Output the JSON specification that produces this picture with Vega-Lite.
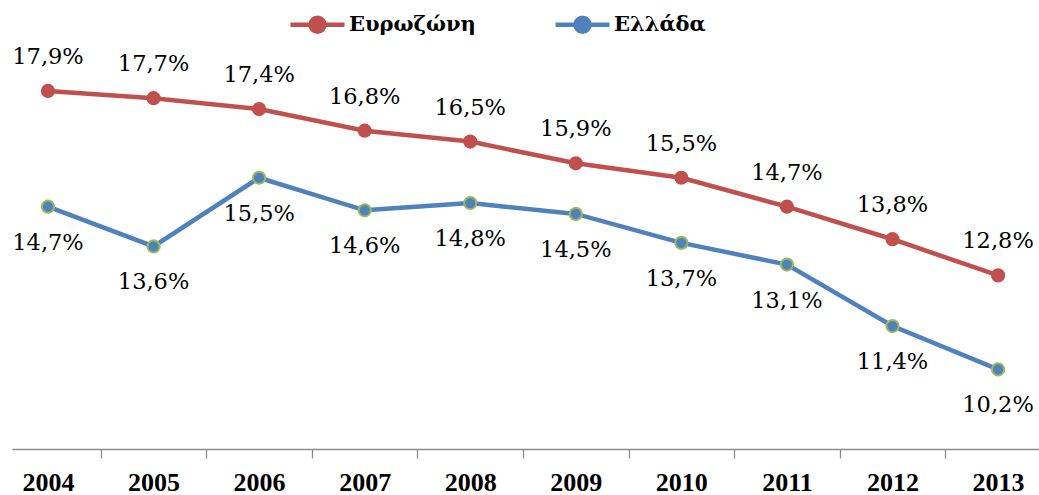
{
  "$schema": "https://vega.github.io/schema/vega-lite/v6.json",
  "width": 1027,
  "height": 434,
  "autosize": {"type": "none"},
  "padding": {"left": 12, "top": 15, "right": 0, "bottom": 46},
  "background": "white",
  "config": {
    "view": {"stroke": null},
    "locale": {"number": {"decimal": ",", "thousands": ".", "grouping": [3], "currency": ["", " €"]}}
  },
  "data": {
    "values": [
      {"year": 2004, "series": "Ευρωζώνη", "value": 0.179},
      {"year": 2005, "series": "Ευρωζώνη", "value": 0.177},
      {"year": 2006, "series": "Ευρωζώνη", "value": 0.174},
      {"year": 2007, "series": "Ευρωζώνη", "value": 0.168},
      {"year": 2008, "series": "Ευρωζώνη", "value": 0.165},
      {"year": 2009, "series": "Ευρωζώνη", "value": 0.159},
      {"year": 2010, "series": "Ευρωζώνη", "value": 0.155},
      {"year": 2011, "series": "Ευρωζώνη", "value": 0.147},
      {"year": 2012, "series": "Ευρωζώνη", "value": 0.138},
      {"year": 2013, "series": "Ευρωζώνη", "value": 0.128},
      {"year": 2004, "series": "Ελλάδα", "value": 0.147},
      {"year": 2005, "series": "Ελλάδα", "value": 0.136},
      {"year": 2006, "series": "Ελλάδα", "value": 0.155},
      {"year": 2007, "series": "Ελλάδα", "value": 0.146},
      {"year": 2008, "series": "Ελλάδα", "value": 0.148},
      {"year": 2009, "series": "Ελλάδα", "value": 0.145},
      {"year": 2010, "series": "Ελλάδα", "value": 0.137},
      {"year": 2011, "series": "Ελλάδα", "value": 0.131},
      {"year": 2012, "series": "Ελλάδα", "value": 0.114},
      {"year": 2013, "series": "Ελλάδα", "value": 0.102}
    ]
  },
  "encoding": {
    "x": {
      "field": "year", "type": "quantitative",
      "scale": {"domain": [2003.659, 2013.388], "nice": false, "zero": false},
      "axis": {
        "title": null,
        "values": [2004, 2005, 2006, 2007, 2008, 2009, 2010, 2011, 2012, 2013],
        "format": "d",
        "grid": false,
        "tickOffset": 52.78,
        "labelOffset": -52.78,
        "labelFlush": false,
        "labelOverlap": false,
        "labelBound": false,
        "tickSize": 9,
        "tickColor": "#8c8c8c",
        "domainColor": "#8c8c8c",
        "domainWidth": 1.3,
        "tickWidth": 1.3,
        "labelFont": "Liberation Serif",
        "labelFontWeight": "bold",
        "labelFontSize": 26,
        "labelColor": "black",
        "labelPadding": 11
      }
    },
    "y": {
      "field": "value", "type": "quantitative",
      "scale": {"domain": [0.08, 0.20], "nice": false, "zero": false},
      "axis": null
    }
  },
  "layer": [
    {
      "mark": {"type": "line", "strokeWidth": 4.5},
      "encoding": {
        "color": {
          "field": "series", "type": "nominal",
          "scale": {"domain": ["Ευρωζώνη", "Ελλάδα"], "range": ["#C0504D", "#4F81BD"]},
          "legend": {
            "title": null,
            "orient": "none",
            "direction": "horizontal",
            "legendX": 276,
            "legendY": -20,
            "symbolType": "M-1,0H1M-0.26,0A0.26,0.26 0 1,0 0.26,0A0.26,0.26 0 1,0 -0.26,0Z",
            "symbolSize": 2916,
            "symbolStrokeWidth": 4.5,
            "labelFont": "DejaVu Serif",
            "labelFontWeight": "bold",
            "labelFontSize": 21,
            "labelColor": "black",
            "labelOffset": 2,
            "columnPadding": 70,
            "labelLimit": 400,
            "encode": {
              "symbols": {"update": {"fill": {"scale": "color", "field": "value"}, "fillOpacity": {"value": 1}}}
            }
          }
        }
      }
    },
    {
      "mark": {"type": "point", "filled": true, "opacity": 1, "size": 150, "strokeWidth": 2},
      "encoding": {
        "fill": {
          "field": "series", "type": "nominal",
          "scale": {"domain": ["Ευρωζώνη", "Ελλάδα"], "range": ["#C0504D", "#4F81BD"]},
          "legend": null
        },
        "stroke": {
          "field": "series", "type": "nominal",
          "scale": {"domain": ["Ευρωζώνη", "Ελλάδα"], "range": ["#C0504D", "#9BBB59"]},
          "legend": null
        }
      }
    },
    {
      "transform": [{"filter": "datum.series === 'Ευρωζώνη'"}],
      "mark": {"type": "text", "dy": -34, "baseline": "middle", "font": "DejaVu Serif", "fontSize": 22.5, "color": "black"},
      "encoding": {"text": {"field": "value", "type": "quantitative", "format": ".1%"}}
    },
    {
      "transform": [{"filter": "datum.series === 'Ελλάδα'"}],
      "mark": {"type": "text", "dy": 36, "baseline": "middle", "font": "DejaVu Serif", "fontSize": 22.5, "color": "black"},
      "encoding": {"text": {"field": "value", "type": "quantitative", "format": ".1%"}}
    }
  ]
}
